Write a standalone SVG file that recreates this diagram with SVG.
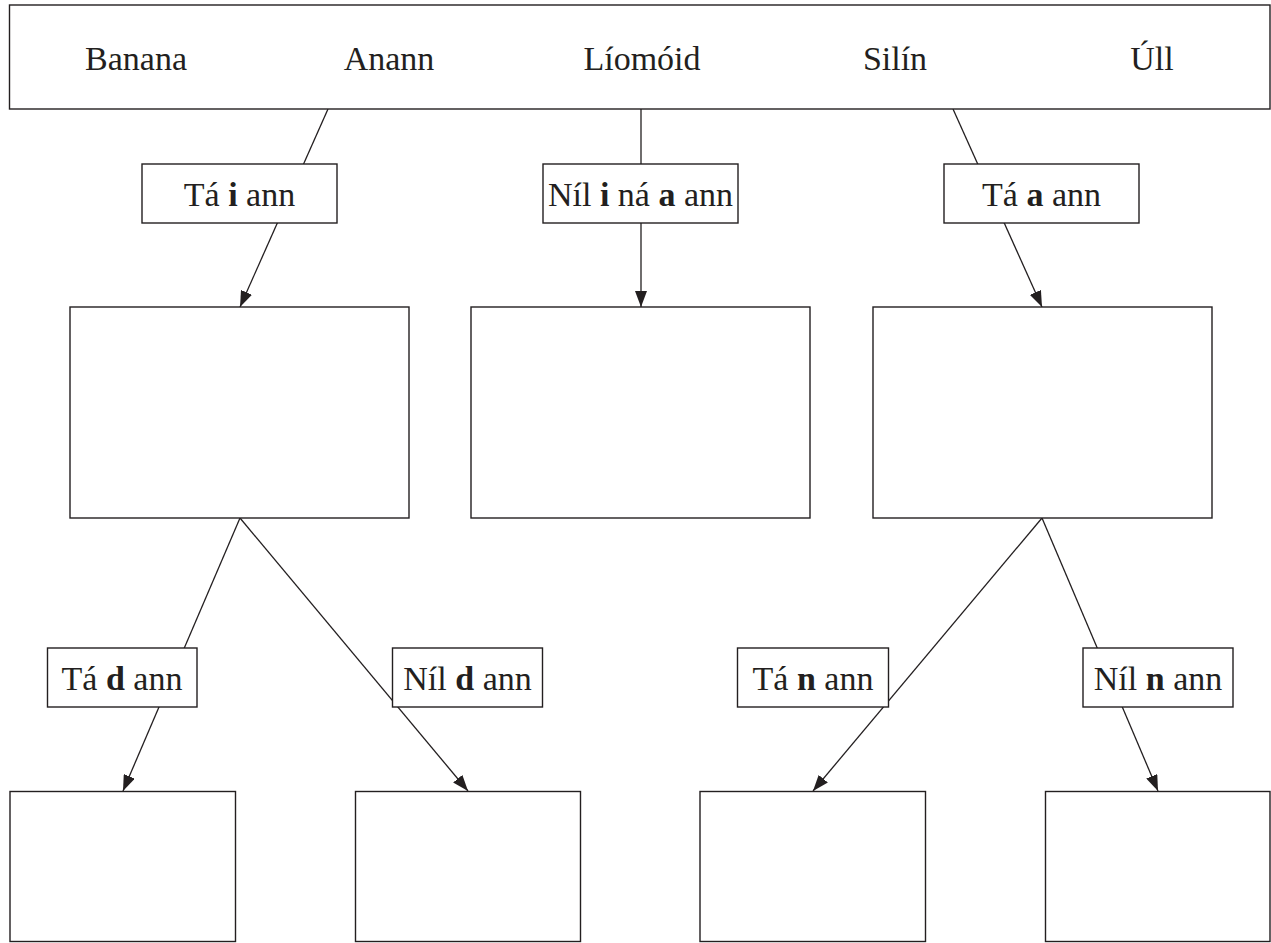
<svg xmlns="http://www.w3.org/2000/svg" width="1271" height="943" viewBox="0 0 1271 943">
  <style>
    .box { fill: #ffffff; stroke: #231f20; stroke-width: 1.4; }
    .conn { fill: none; stroke: #231f20; stroke-width: 1.3; }
    .t { font-family: "Liberation Serif", "Times New Roman", serif; font-size: 34px; fill: #231f20; text-anchor: middle; }
    .b { font-weight: bold; }
  </style>
  <defs>
    <marker id="arrow" markerUnits="userSpaceOnUse" markerWidth="16" markerHeight="12" refX="16" refY="6" orient="auto">
      <path d="M0,0 L16,6 L0,12 z" fill="#231f20"/>
    </marker>
  </defs>
  <rect width="1271" height="943" fill="#ffffff"/>

  <g id="connectors">
    <line class="conn" x1="328" y1="109" x2="240" y2="307" marker-end="url(#arrow)"/>
    <line class="conn" x1="641" y1="109" x2="641" y2="307" marker-end="url(#arrow)"/>
    <line class="conn" x1="953" y1="109" x2="1042" y2="307" marker-end="url(#arrow)"/>
    <line class="conn" x1="240" y1="518" x2="123" y2="791" marker-end="url(#arrow)"/>
    <line class="conn" x1="240" y1="518" x2="468" y2="791" marker-end="url(#arrow)"/>
    <line class="conn" x1="1042" y1="518" x2="813" y2="791" marker-end="url(#arrow)"/>
    <line class="conn" x1="1042" y1="518" x2="1158" y2="791" marker-end="url(#arrow)"/>
  </g>

  <g id="top">
    <rect class="box" x="9.5" y="5" width="1260.5" height="104"/>
    <text class="t" x="136" y="70">Banana</text>
    <text class="t" x="389" y="70">Anann</text>
    <text class="t" x="642" y="70">Líomóid</text>
    <text class="t" x="895" y="70">Silín</text>
    <text class="t" x="1152" y="70">Úll</text>
  </g>

  <g id="label-ta-i">
    <rect class="box" x="142" y="164" width="195" height="59"/>
    <text class="t" x="239.5" y="206">Tá <tspan class="b">i</tspan> ann</text>
  </g>
  <g id="label-nil-i-na-a">
    <rect class="box" x="543" y="164" width="195" height="59"/>
    <text class="t" x="640.5" y="206">Níl <tspan class="b">i</tspan> ná <tspan class="b">a</tspan> ann</text>
  </g>
  <g id="label-ta-a">
    <rect class="box" x="944" y="164" width="195" height="59"/>
    <text class="t" x="1041.5" y="206">Tá <tspan class="b">a</tspan> ann</text>
  </g>

  <g id="box-i">
    <rect class="box" x="70" y="307" width="339" height="211"/>
  </g>
  <g id="box-none">
    <rect class="box" x="471" y="307" width="339" height="211"/>
  </g>
  <g id="box-a">
    <rect class="box" x="873" y="307" width="339" height="211"/>
  </g>

  <g id="label-ta-d">
    <rect class="box" x="47.5" y="648" width="149.5" height="59"/>
    <text class="t" x="122" y="690">Tá <tspan class="b">d</tspan> ann</text>
  </g>
  <g id="label-nil-d">
    <rect class="box" x="392.5" y="648" width="150" height="59"/>
    <text class="t" x="467.5" y="690">Níl <tspan class="b">d</tspan> ann</text>
  </g>
  <g id="label-ta-n">
    <rect class="box" x="737.5" y="648" width="151" height="59"/>
    <text class="t" x="813" y="690">Tá <tspan class="b">n</tspan> ann</text>
  </g>
  <g id="label-nil-n">
    <rect class="box" x="1083" y="648" width="150" height="59"/>
    <text class="t" x="1158" y="690">Níl <tspan class="b">n</tspan> ann</text>
  </g>

  <g id="box-i-d">
    <rect class="box" x="10" y="791.5" width="225.5" height="150"/>
  </g>
  <g id="box-i-nod">
    <rect class="box" x="355.5" y="791.5" width="225" height="150"/>
  </g>
  <g id="box-a-n">
    <rect class="box" x="700" y="791.5" width="225.5" height="150"/>
  </g>
  <g id="box-a-non">
    <rect class="box" x="1045.5" y="791.5" width="224.5" height="150"/>
  </g>
</svg>
